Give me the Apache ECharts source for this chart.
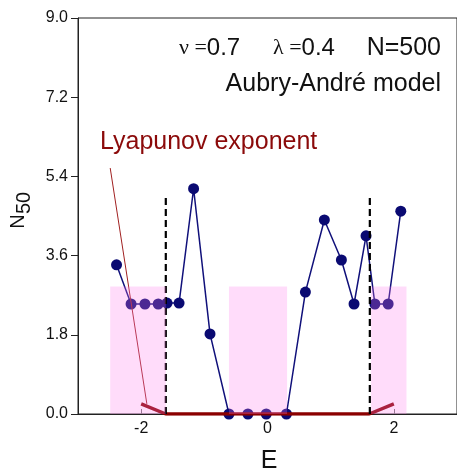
<!DOCTYPE html>
<html>
<head>
<meta charset="utf-8">
<script src="https://cdn.jsdelivr.net/npm/echarts@6/dist/echarts.min.js"></script>
<style>
html,body{margin:0;padding:0;background:#fff;}
#c{width:457px;height:472px;}
</style>
</head>
<body>
<div id="c"></div>
<script>
// ---- data ----
const E_vals   = [-2.39, -2.16, -1.94, -1.73, -1.59, -1.40, -1.17, -0.91, -0.61, -0.31, -0.02, 0.30, 0.60, 0.90, 1.17, 1.37, 1.56, 1.70, 1.91, 2.11];
const N50_vals = [ 3.39,  2.50,  2.50,  2.50,  2.52,  2.52,  5.12,  1.82,  0.00,  0.00,  0.00, 0.00, 2.77, 4.41, 3.50, 2.50, 4.05, 2.50, 2.50, 4.61];
const lyapE    = [-2.00, -1.61, 1.61, 2.00];
const lyapVal  = [ 0.23,  0.00, 0.00, 0.23];
const edgeE    = [-1.61, 1.62];
const edgeTop  = 5.0;
const bandLo   = [-2.49, -0.61, 1.64];
const bandHi   = [-1.61,  0.31, 2.20];
const bandTop  = 2.9;
const pointerE   = [-2.49, -1.91];
const pointerVal = [ 5.59,  0.23];
const xTicks = [-2, 0, 2];
const yTicks = [0, 1.8, 3.6, 5.4, 7.2, 9.0];

const chart = echarts.init(document.getElementById('c'), null, {renderer:'canvas'});
const font = 'Liberation Sans, Arial, sans-serif';
const serif = 'Liberation Serif, Times New Roman, serif';

const mainData = E_vals.map((e,i)=>[e, N50_vals[i]]);
const lyapData = lyapE.map((e,i)=>[e, lyapVal[i]]);
const bandData = bandLo.map((lo,i)=>[lo, bandHi[i], bandTop]);
const pointerData = pointerE.map((e,i)=>[e, pointerVal[i]]);

const edgeSeries = edgeE.map(e=>({
  type:'line', z:4, silent:true, symbol:'none',
  data:[[e,0],[e,edgeTop]],
  lineStyle:{color:'#000', width:2.2, type:[7,4]}
}));

function paramText(x, sym, val){
  return {type:'text', x:x, y:48, z:100,
    style:{rich:{g:{fontFamily:serif, fontSize:22, fill:'#111'}, t:{fontFamily:font, fontSize:24, fill:'#111'}},
           text:'{g|'+sym+' =}{t|'+val+'}', verticalAlign:'middle'}};
}

chart.setOption({
  animation:false,
  grid:{left:78, top:18, width:381, height:396, show:true, borderColor:'#222', borderWidth:1},
  xAxis:{
    type:'value', min:-3, max:3, interval:1,
    axisLine:{onZero:false, lineStyle:{color:'#222', width:1}},
    axisTick:{inside:true, length:5, lineStyle:{color:'#777'}, customValues:xTicks},
    axisLabel:{customValues:xTicks, color:'#111', fontFamily:font, fontSize:16, margin:7},
    splitLine:{show:false}
  },
  yAxis:{
    type:'value', min:0, max:9, interval:1.8,
    axisLine:{show:true, onZero:false, lineStyle:{color:'#222', width:1}},
    axisTick:{show:true, inside:false, length:7, lineStyle:{color:'#222'}},
    axisLabel:{color:'#111', fontFamily:font, fontSize:16, margin:10, formatter:v=>v.toFixed(1)},
    splitLine:{show:false}
  },
  graphic:[
    {type:'text', x:18.5, y:221.5, rotation:Math.PI/2, z:100,
     style:{text:'N', fontFamily:font, fontSize:20, fill:'#111', align:'center', verticalAlign:'middle'}},
    {type:'text', x:24.5, y:203, rotation:Math.PI/2, z:100,
     style:{text:'50', fontFamily:font, fontSize:20, fill:'#111', align:'center', verticalAlign:'middle'}},
    {type:'text', x:269, y:461, z:100,
     style:{text:'E', fontFamily:font, fontSize:25, fill:'#111', align:'center', verticalAlign:'middle'}},
    paramText(179, 'ν', '0.7'),
    paramText(273, 'λ', '0.4'),
    {type:'text', x:441, y:48, z:100,
     style:{text:'N=500', fontFamily:font, fontSize:25, fill:'#111', align:'right', verticalAlign:'middle'}},
    {type:'text', x:441, y:84, z:100,
     style:{text:'Aubry-André model', fontFamily:font, fontSize:25, fill:'#111', align:'right', verticalAlign:'middle'}},
    {type:'text', x:100, y:142, z:100,
     style:{text:'Lyapunov exponent', fontFamily:font, fontSize:25, fill:'#8b0a0a', verticalAlign:'middle'}}
  ],
  series:[
    {type:'line', z:2, data:mainData, symbol:'circle', symbolSize:11,
     lineStyle:{color:'#10107a', width:1.5}, itemStyle:{color:'#0a0a72'}},
    {type:'line', z:3, data:lyapData, symbol:'none',
     lineStyle:{color:'#8b0000', width:3.5}},
    {type:'line', z:3, data:pointerData, symbol:'none',
     lineStyle:{color:'#a02020', width:1}},
    ...edgeSeries,
    {type:'custom', z:6, silent:true, data:bandData,
     encode:{x:[0,1], y:2},
     renderItem:(params, api)=>{
       const p0 = api.coord([api.value(0), api.value(2)]);
       const p1 = api.coord([api.value(1), 0]);
       return {type:'rect', shape:{x:p0[0], y:p0[1], width:p1[0]-p0[0], height:p1[1]-p0[1]},
               style:{fill:'rgba(255,125,237,0.27)'}};
     }}
  ]
});
</script>
</body>
</html>
